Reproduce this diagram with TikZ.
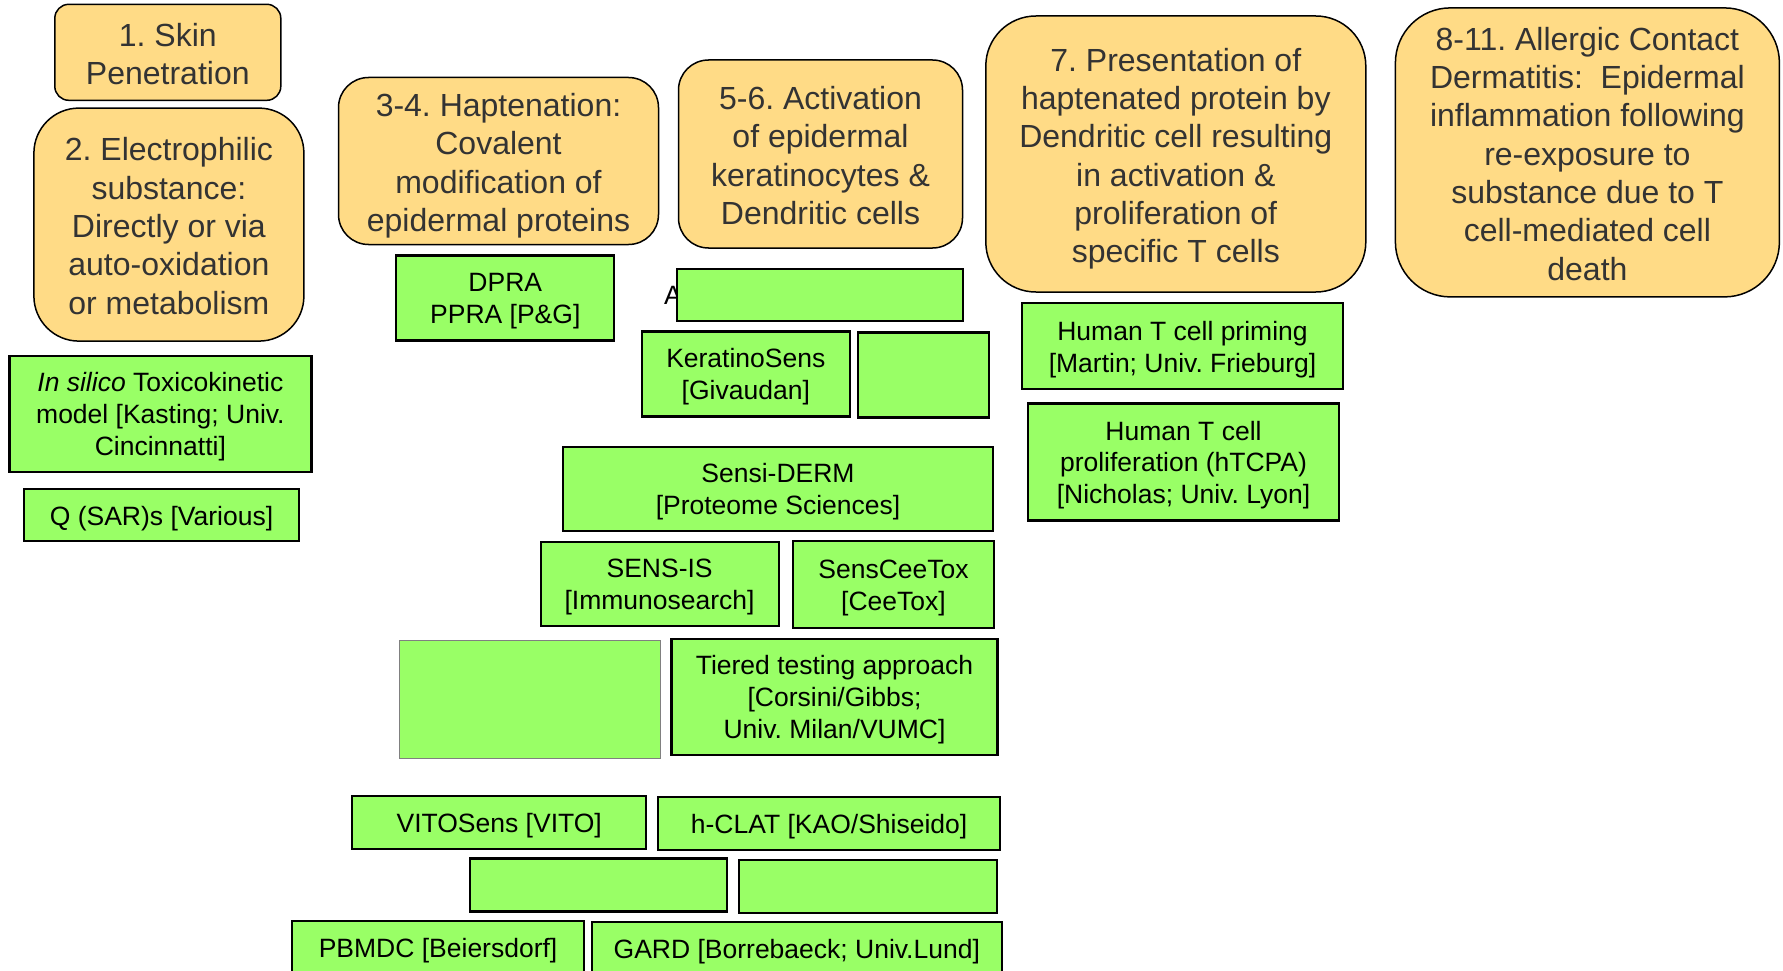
\documentclass[tikz,border=0pt]{standalone}
\usepackage{fontspec}
\setmainfont{Liberation Sans}
\frenchspacing
\definecolor{stepfill}{HTML}{FFDB86}
\definecolor{assayfill}{HTML}{99FF66}
\definecolor{steptext}{HTML}{333333}
\newlength\textdrop
\newcommand\lowtext[1]{\raisebox{-\textdrop}[\height][\depth]{\begin{tabular}{@{}c@{}}#1\end{tabular}}}

\begin{document}
\begin{tikzpicture}[x=1pt,y=-1pt,
    keystep/.style={draw=black,line width=1.5pt,fill=stepfill,text=steptext,inner sep=0pt,font=\fontsize{32}{38.3}\selectfont\setlength\textdrop{5.2pt}},
    assay/.style={draw=black,line width=2.2pt,fill=assayfill,inner sep=0pt,font=\fontsize{26.5}{31.8}\selectfont\setlength\textdrop{3.5pt}},
    blank/.style={draw=black,line width=2.2pt,fill=assayfill,inner sep=0pt},
    faint/.style={draw=gray,line width=0.8pt,fill=assayfill,inner sep=0pt}]
    \useasboundingbox (0,0) rectangle (1783,971);

    \node[keystep,rounded corners=14,minimum width=226,minimum height=96] (skin) at (167.8,52.3) {\lowtext{1. Skin\\Penetration}};
    \node[keystep,rounded corners=45,minimum width=270,minimum height=233] (electro) at (168.9,224.6) {\lowtext{2. Electrophilic\\substance:\\Directly or via\\auto-oxidation\\or metabolism}};
    \node[keystep,rounded corners=30,minimum width=320,minimum height=167] (hapten) at (498.5,161) {\lowtext{3-4. Haptenation:\\Covalent\\modification of\\epidermal proteins}};
    \node[keystep,rounded corners=30,minimum width=284,minimum height=188] (activ) at (820.5,154) {\lowtext{5-6. Activation\\of epidermal\\keratinocytes \&\\Dendritic cells}};
    \node[keystep,rounded corners=50,minimum width=380,minimum height=276] (present) at (1175.8,154) {\lowtext{7. Presentation of\\haptenated protein by\\Dendritic cell resulting\\in activation \&\\proliferation of\\specific T cells}};
    \node[keystep,rounded corners=55,minimum width=384,minimum height=289] (acd) at (1587.4,152.4) {\lowtext{8-11. Allergic Contact\\Dermatitis:~ Epidermal\\inflammation following\\re-exposure to\\substance due to T\\cell-mediated cell\\death}};

    \node[assay,minimum width=302,minimum height=116] (insilico) at (160.4,413.9) {\lowtext{\textit{In silico} Toxicokinetic\\model [Kasting; Univ.\\Cincinnatti]}};
    \node[assay,minimum width=275,minimum height=52] (qsar) at (161.5,515.2) {\lowtext{Q (SAR)s [Various]}};

    \node[assay,minimum width=218,minimum height=85] (dpra) at (505.3,298) {\lowtext{DPRA\\PPRA [P\&G]}};
    \node[anchor=west,inner sep=0pt,font=\fontsize{26.5}{31.8}\selectfont] (hidden) at (664,295.3) {A};
    \node[blank,minimum width=286,minimum height=52] (areblank) at (819.8,295.3) {};
    \node[assay,minimum width=208,minimum height=85] (kerat) at (745.8,374) {\lowtext{KeratinoSens\\{[Givaudan]}}};
    \node[blank,minimum width=131,minimum height=85] (keratblank) at (923.8,375) {};

    \node[assay,minimum width=321,minimum height=86] (priming) at (1182.5,346.3) {\lowtext{Human T cell priming\\{[Martin; Univ. Frieburg]}}};
    \node[assay,minimum width=311,minimum height=117] (htcpa) at (1183.5,462) {\lowtext{Human T cell\\proliferation (hTCPA)\\{[Nicholas; Univ. Lyon]}}};

    \node[assay,minimum width=430,minimum height=84] (sensiderm) at (778,488.8) {\lowtext{Sensi-DERM\\{[Proteome Sciences]}}};
    \node[assay,minimum width=238,minimum height=84] (sensis) at (659.6,583.8) {\lowtext{SENS-IS\\{[Immunosearch]}}};
    \node[assay,minimum width=201,minimum height=87] (ceetox) at (893.5,584.7) {\lowtext{SensCeeTox\\{[CeeTox]}}};

    \node[faint,minimum width=261,minimum height=118] (tierblank) at (530.2,699.7) {};
    \node[assay,minimum width=326,minimum height=116] (tiered) at (834.5,696.8) {\lowtext{Tiered testing approach\\{[Corsini/Gibbs;}\\Univ. Milan/VUMC]}};

    \node[assay,minimum width=294,minimum height=53] (vito) at (499.2,822.7) {\lowtext{VITOSens [VITO]}};
    \node[assay,minimum width=342,minimum height=53] (hclat) at (829.1,823.7) {\lowtext{h-CLAT [KAO/Shiseido]}};
    \node[blank,minimum width=257,minimum height=53] (lowblank) at (598.6,885) {};
    \node[blank,minimum width=258,minimum height=53] (lowblanktwo) at (868,886.3) {};
    \node[assay,minimum width=292,minimum height=53] (pbmdc) at (438.1,947.2) {\lowtext{PBMDC [Beiersdorf]}};
    \node[assay,minimum width=410,minimum height=53] (gard) at (796.8,948.2) {\lowtext{GARD [Borrebaeck; Univ.Lund]}};
\end{tikzpicture}
\end{document}
